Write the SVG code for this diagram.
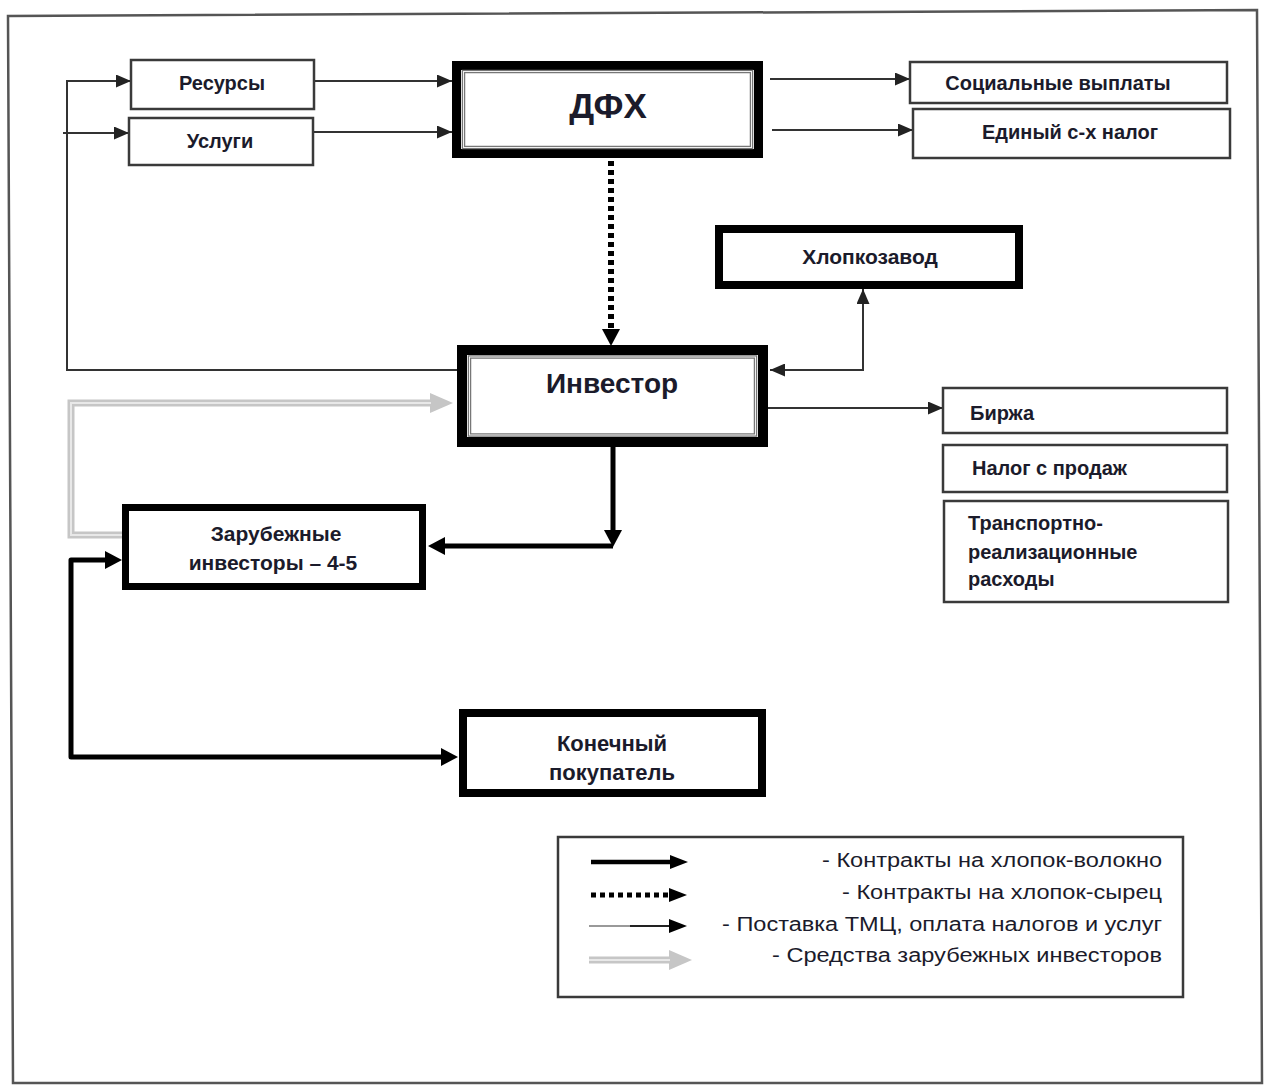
<svg xmlns="http://www.w3.org/2000/svg" width="1268" height="1086" viewBox="0 0 1268 1086">
<style>
  .bg{fill:#fff}
  .frame{fill:none;stroke:#555;stroke-width:2.5}
  .tbox{fill:#fff;stroke:#3a3a3a;stroke-width:2.5}
  .kbox{fill:#fff;stroke:#000}
  .inner{fill:none;stroke:#777;stroke-width:3.5}
  .innerw{fill:none;stroke:#f2f2f2;stroke-width:1}
  .lbl{font-family:"Liberation Sans",Arial,sans-serif;font-weight:bold;fill:#1b1b2b;font-size:20px}
  .c{text-anchor:middle}
  .leg{font-family:"Liberation Sans",Arial,sans-serif;fill:#1b1b2b;font-size:20px;text-anchor:end}
  .thin{fill:none;stroke:#333;stroke-width:2}
  .thick{fill:none;stroke:#000;stroke-width:5;stroke-linejoin:round}
  .dot{fill:none;stroke:#000;stroke-width:6;stroke-dasharray:5 4}
  .gray{fill:none;stroke:#c6c6c6;stroke-width:7}
  .grayin{fill:none;stroke:#e8e8e8;stroke-width:2}
</style>
<defs>
  <marker id="ah" markerUnits="userSpaceOnUse" markerWidth="15" markerHeight="13" refX="15" refY="6.5" orient="auto-start-reverse">
    <path d="M0,0 L15,6.5 L0,13 z" fill="#222"/>
  </marker>
  <marker id="ahT" markerUnits="userSpaceOnUse" markerWidth="17" markerHeight="18" refX="1" refY="9" orient="auto-start-reverse">
    <path d="M0,0 L17,9 L0,18 z" fill="#000"/>
  </marker>
  <marker id="ahL" markerUnits="userSpaceOnUse" markerWidth="18" markerHeight="14" refX="1" refY="7" orient="auto">
    <path d="M0,0 L18,7 L0,14 z" fill="#000"/>
  </marker>
  <marker id="ahG" markerUnits="userSpaceOnUse" markerWidth="23" markerHeight="20" refX="1" refY="10" orient="auto">
    <path d="M0,0 L23,10 L0,20 z" fill="#c6c6c6"/>
  </marker>
</defs>
<rect class="bg" x="0" y="0" width="1268" height="1086"/>
<path class="frame" d="M13,1083 L8,16 L1257,10 L1262,1083 Z"/>

<g id="connectors">
  <!-- left loop: Инвестор -> Ресурсы / Услуги -->
  <path class="thin" d="M457,370 H67 V81 H131" marker-end="url(#ah)"/>
  <path class="thin" d="M63,133 H129" marker-end="url(#ah)"/>
  <!-- Ресурсы/Услуги -> ДФХ -->
  <path class="thin" d="M314,81 H452" marker-end="url(#ah)"/>
  <path class="thin" d="M313,132 H452" marker-end="url(#ah)"/>
  <!-- ДФХ -> right boxes -->
  <path class="thin" d="M770,79 H910" marker-end="url(#ah)"/>
  <path class="thin" d="M772,130 H913" marker-end="url(#ah)"/>
  <!-- dotted ДФХ -> Инвестор -->
  <path class="dot" d="M611,161 V330" marker-end="url(#ahT)"/>
  <!-- Хлопкозавод <-> Инвестор -->
  <path class="thin" d="M770,370 H863 V289" marker-start="url(#ah)" marker-end="url(#ah)"/>
  <!-- Инвестор -> Биржа -->
  <path class="thin" d="M768,408 H943" marker-end="url(#ah)"/>
  <!-- Инвестор -> Зарубежные -->
  <path class="thick" d="M613,447 V531" marker-end="url(#ahT)"/>
  <path class="thick" d="M613,546 H444" marker-end="url(#ahT)"/>
  <!-- Зарубежные -> Инвестор (gray) -->
  <path class="gray" d="M122,535 H71 V403 H431" marker-end="url(#ahG)"/>
  <path class="grayin" d="M122,535 H71 V403 H431"/>
  <!-- Зарубежные <-> Конечный покупатель -->
  <path class="thick" d="M106,560 H71 V757 H442" marker-start="url(#ahT)" marker-end="url(#ahT)"/>
</g>

<g id="n-resursy">
  <rect class="tbox" x="131" y="60" width="183" height="49"/>
  <text class="lbl c" x="222" y="90">Ресурсы</text>
</g>
<g id="n-uslugi">
  <rect class="tbox" x="129" y="118" width="184" height="47"/>
  <text class="lbl c" x="220" y="148">Услуги</text>
</g>
<g id="n-dfh">
  <rect class="kbox" x="456.5" y="65.5" width="302" height="88" stroke-width="9"/>
  <rect class="inner" x="463.5" y="71.5" width="288" height="76"/>
  <rect class="innerw" x="463.5" y="71.5" width="288" height="76"/>
  <text class="lbl c" x="608" y="118" style="font-size:35px">ДФХ</text>
</g>
<g id="n-social">
  <rect class="tbox" x="910" y="62" width="317" height="41"/>
  <text class="lbl c" x="1058" y="90">Социальные выплаты</text>
</g>
<g id="n-edinyi">
  <rect class="tbox" x="913" y="109" width="317" height="49"/>
  <text class="lbl c" x="1070" y="139">Единый с-х налог</text>
</g>
<g id="n-hlopkozavod">
  <rect class="kbox" x="719" y="229" width="300" height="56" stroke-width="8"/>
  <text class="lbl c" x="870" y="264" style="font-size:21px">Хлопкозавод</text>
</g>
<g id="n-investor">
  <rect class="kbox" x="462" y="350" width="301" height="92" stroke-width="10"/>
  <rect class="inner" x="469.5" y="357" width="286" height="78"/>
  <rect class="innerw" x="469.5" y="357" width="286" height="78"/>
  <text class="lbl c" x="612" y="393" style="font-size:28px">Инвестор</text>
</g>
<g id="n-birzha">
  <rect class="tbox" x="943" y="388" width="284" height="45"/>
  <text class="lbl" x="970" y="420">Биржа</text>
</g>
<g id="n-nalog">
  <rect class="tbox" x="943" y="445" width="284" height="47"/>
  <text class="lbl" x="972" y="475">Налог с продаж</text>
</g>
<g id="n-transport">
  <rect class="tbox" x="944" y="501" width="284" height="101"/>
  <text class="lbl" x="968" y="530">Транспортно-</text>
  <text class="lbl" x="968" y="559">реализационные</text>
  <text class="lbl" x="968" y="586">расходы</text>
</g>
<g id="n-zarub">
  <rect class="kbox" x="125.5" y="507.5" width="297" height="79" stroke-width="7"/>
  <text class="lbl c" x="276" y="541" style="font-size:21px">Зарубежные</text>
  <text class="lbl c" x="273" y="570" style="font-size:21px">инвесторы – 4-5</text>
</g>
<g id="n-konech">
  <rect class="kbox" x="463" y="713" width="299" height="80" stroke-width="8"/>
  <text class="lbl c" x="612" y="751" style="font-size:22px">Конечный</text>
  <text class="lbl c" x="612" y="780" style="font-size:22px">покупатель</text>
</g>

<g id="legend">
  <rect class="tbox" x="558" y="837" width="625" height="160" stroke-width="2"/>
  <path d="M591,862 H671" stroke="#000" stroke-width="4.5" fill="none" marker-end="url(#ahL)"/>
  <path d="M591,895 H670" stroke="#000" stroke-width="5" stroke-dasharray="5 4" fill="none" marker-end="url(#ahL)"/>
  <path d="M589,926 H630" stroke="#999" stroke-width="2" fill="none"/>
  <path d="M630,926 H670" stroke="#222" stroke-width="2" fill="none" marker-end="url(#ahL)"/>
  <path d="M589,960 H670" class="gray" stroke-width="8" marker-end="url(#ahG)"/>
  <path d="M589,960 H670" class="grayin"/>
  <text class="leg" x="1162" y="867" textLength="340" lengthAdjust="spacingAndGlyphs">- Контракты на хлопок-волокно</text>
  <text class="leg" x="1162" y="899" textLength="320" lengthAdjust="spacingAndGlyphs">- Контракты на хлопок-сырец</text>
  <text class="leg" x="1162" y="931" textLength="440" lengthAdjust="spacingAndGlyphs">- Поставка ТМЦ, оплата налогов и услуг</text>
  <text class="leg" x="1162" y="962" textLength="390" lengthAdjust="spacingAndGlyphs">- Средства зарубежных инвесторов</text>
</g>
</svg>
